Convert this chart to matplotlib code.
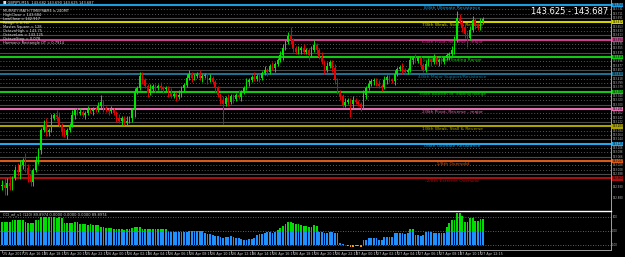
import matplotlib
matplotlib.use("Agg")
import matplotlib.pyplot as plt
import matplotlib.transforms as mtransforms
import numpy as np

# GBPJPY M15 candles (open of each bar = previous close)
first_open = 142.935
close = [142.940, 142.926, 142.949, 142.935, 142.971, 143.007, 142.998, 143.030, 143.052, 143.016,
         142.985, 142.953, 143.007, 143.052, 143.097, 143.187, 143.210, 143.178, 143.187, 143.241,
         143.255, 143.246, 143.210, 143.178, 143.165, 143.187, 143.210, 143.255, 143.277, 143.264,
         143.268, 143.255, 143.264, 143.277, 143.273, 143.282, 143.277, 143.295, 143.313, 143.286,
         143.277, 143.273, 143.277, 143.264, 143.241, 143.228, 143.241, 143.219, 143.228, 143.241,
         143.277, 143.358, 143.376, 143.430, 143.412, 143.385, 143.354, 143.372, 143.385, 143.376,
         143.385, 143.376, 143.372, 143.376, 143.354, 143.340, 143.349, 143.336, 143.345, 143.376,
         143.390, 143.421, 143.439, 143.421, 143.430, 143.439, 143.421, 143.430, 143.435, 143.412,
         143.421, 143.403, 143.376, 143.345, 143.322, 143.304, 143.331, 143.313, 143.340, 143.327,
         143.345, 143.336, 143.358, 143.376, 143.403, 143.412, 143.426, 143.417, 143.430, 143.421,
         143.444, 143.457, 143.448, 143.475, 143.466, 143.484, 143.502, 143.524, 143.556, 143.583,
         143.610, 143.592, 143.556, 143.538, 143.547, 143.556, 143.538, 143.547, 143.524, 143.547,
         143.570, 143.547, 143.516, 143.493, 143.457, 143.475, 143.493, 143.466, 143.412, 143.358,
         143.340, 143.300, 143.313, 143.322, 143.304, 143.322, 143.313, 143.304, 143.291, 143.345,
         143.376, 143.394, 143.408, 143.412, 143.394, 143.385, 143.381, 143.412, 143.426, 143.412,
         143.408, 143.439, 143.462, 143.470, 143.457, 143.448, 143.457, 143.502, 143.511, 143.497,
         143.511, 143.480, 143.457, 143.484, 143.502, 143.493, 143.511, 143.493, 143.502, 143.493,
         143.511, 143.524, 143.529, 143.547, 143.592, 143.691, 143.673, 143.646, 143.619, 143.601,
         143.637, 143.682, 143.660, 143.646, 143.673, 143.687]
# wick lengths in pips above max(open, close) / below min(open, close)
hi_wick = [2, 3, 2, 3, 1, 2, 3, 2, 1, 3, 2, 2, 1, 2, 1, 1, 2, 3, 1, 2,
           1, 2, 2, 1, 2, 1, 1, 2, 1, 1, 2, 1, 1, 2, 1, 1, 1, 2, 3, 1,
           1, 1, 2, 1, 1, 2, 1, 1, 2, 1, 1, 2, 1, 2, 2, 1, 1, 2, 1, 1,
           1, 2, 1, 1, 1, 2, 1, 1, 2, 1, 1, 2, 2, 1, 1, 1, 2, 1, 1, 1,
           2, 1, 1, 1, 1, 2, 1, 2, 1, 1, 1, 2, 1, 1, 2, 1, 1, 2, 1, 1,
           1, 2, 1, 1, 2, 1, 1, 2, 2, 1, 2, 4, 1, 1, 2, 1, 2, 1, 1, 2,
           2, 1, 1, 2, 1, 2, 1, 1, 2, 1, 1, 1, 2, 1, 1, 2, 1, 1, 1, 2,
           1, 2, 1, 1, 1, 2, 1, 2, 1, 1, 1, 2, 1, 1, 2, 1, 1, 2, 1, 2,
           1, 1, 1, 2, 1, 1, 2, 1, 1, 2, 1, 1, 1, 2, 2, 3, 2, 1, 2, 1,
           2, 2, 1, 1, 2, 1]
lo_wick = [2, 3, 3, 2, 2, 1, 2, 3, 2, 2, 3, 2, 2, 1, 2, 2, 1, 2, 2, 1,
           1, 2, 1, 2, 1, 2, 1, 1, 2, 1, 1, 1, 2, 1, 1, 2, 1, 1, 1, 2,
           1, 2, 1, 1, 2, 1, 2, 1, 1, 1, 2, 3, 1, 1, 2, 1, 2, 1, 1, 2,
           1, 1, 2, 1, 2, 1, 1, 2, 1, 1, 2, 1, 1, 2, 1, 1, 1, 2, 1, 2,
           1, 1, 2, 1, 2, 9, 1, 2, 1, 2, 1, 1, 2, 1, 1, 2, 1, 1, 1, 2,
           1, 1, 2, 1, 1, 2, 1, 1, 2, 1, 1, 2, 2, 1, 1, 2, 1, 1, 2, 1,
           1, 2, 1, 1, 2, 1, 1, 2, 2, 1, 2, 1, 1, 1, 6, 2, 1, 1, 2, 1,
           2, 1, 1, 2, 1, 1, 2, 1, 2, 1, 1, 2, 1, 1, 2, 1, 1, 1, 2, 1,
           1, 2, 1, 1, 1, 2, 1, 1, 2, 1, 1, 1, 2, 1, 2, 1, 1, 2, 2, 4,
           1, 1, 2, 1, 1, 1]

# indicator histogram values
cci = [67, 65, 68, 66, 80, 82, 78, 83, 80, 70,
       60, 58, 62, 78, 82, 100, 104, 103, 105, 104,
       100, 98, 100, 95, 62, 58, 60, 57, 67, 65,
       55, 52, 50, 48, 52, 47, 45, 44, 32, 28,
       25, 22, 20, 18, 15, 14, 12, 10, 12, 14,
       20, 30, 32, 28, 15, 14, 16, 15, 13, 16,
       15, 14, 16, 12, -5, -7, -8, -6, -7, -8,
       -6, -4, 0, 2, 1, -1, 0, 2, -15, -20,
       -25, -30, -35, -40, -45, -50, -48, -42, -38, -45,
       -50, -55, -60, -65, -67, -62, -58, -50, -30, -25,
       -20, -15, -10, -8, -12, -7, 7, 25, 40, 55,
       67, 65, 60, 55, 50, 45, 40, 35, 30, 32,
       45, 35, -7, -10, -12, -15, -10, -8, -12, -15,
       -89, -95, -100, -110, -118, -120, -112, -108, -115, -67,
       -70, -52, -50, -55, -52, -67, -65, -45, -42, -48,
       -45, -15, -18, -12, -15, -20, -14, 15, 18, -30,
       -28, -35, -30, -7, -5, -8, -15, -12, -18, -15,
       -13, 30, 60, 81, 85, 133, 130, 111, 67, 65,
       96, 95, 74, 72, 89, 90]

# Murrey Math levels
mm_prices = [143.750, 143.672, 143.594, 143.516, 143.438, 143.359,
             143.281, 143.203, 143.125, 143.047, 142.969]
mm_names = ["8/8th Ultimate Resistance", "7/8th Weak, Stall & Reverse",
            "6/8th Pivot, Reverse - major", "5/8th Top of Trading Range",
            "4/8th Major Support/Resistance", "3/8th Bottom of Trading Range",
            "2/8th Pivot, Reverse - major", "1/8th Weak, Stall & Reverse",
            "0/8th Ultimate Resistance", "-1/8th Oversold", "-2/8th Extreme Oversold"]
mm_colors = ["#1e9ce0", "#d2d200", "#c8408c", "#12c812", "#1f6f8f", "#12c812",
             "#e070b0", "#aaa200", "#22a8ec", "#d85a18", "#a81010"]
extra_ticks = [142.930, 142.880]

time_labels = ["25 Apr 2017", "25 Apr 16:15", "25 Apr 18:15", "25 Apr 20:15", "25 Apr 22:15",
               "26 Apr 00:15", "26 Apr 02:15", "26 Apr 04:15", "26 Apr 06:15", "26 Apr 08:15",
               "26 Apr 10:15", "26 Apr 12:15", "26 Apr 14:15", "26 Apr 16:15", "26 Apr 18:15",
               "26 Apr 20:15", "26 Apr 22:15", "27 Apr 00:15", "27 Apr 02:15", "27 Apr 04:15",
               "27 Apr 06:15", "27 Apr 08:15", "27 Apr 10:15", "27 Apr 12:15"]
bars_per_label = 8

info_lines = ["\u25a0 GBPJPY,M15  143.682 143.690 143.625 143.687",
              "MURREY MATH TIMEFRAME is 240MT",
              "HighClose = 143.684",
              "LowClose = 142.917",
              "Range = 0.767",
              "Master Square = 128",
              "OctaveHigh = 143.75",
              "OctaveLow = 143.125",
              "OctaveStep = 0.078",
              "Harmonic Rectangle OT = 0.7914"]

W, H = 625, 257
fig = plt.figure(figsize=(W / 100, H / 100), dpi=100, facecolor="black")

# ---- main price panel ----
ax = fig.add_axes([0, (H - 210) / H, 611 / W, 210 / H], facecolor="black")
ax.set_xlim(-0.8, 234.2)
ax.set_ylim(142.827, 143.772)

# quarter lines between the murrey levels
step = mm_prices[0] - mm_prices[1]
for p in mm_prices[:-1]:
    ax.axhline(p - step * 0.25, color="#5a5a5a", lw=0.7, ls=(0, (1, 2)), zorder=1)
    ax.axhline(p - step * 0.50, color="#5a5a5a", lw=0.7, ls=(0, (1, 2)), zorder=1)
    ax.axhline(p - step * 0.75, color="#4a4a4a", lw=0.8, zorder=1)

for p, name, col in zip(mm_prices, mm_names, mm_colors):
    ax.axhline(p, color=col, lw=1.5, zorder=2)
    tr = mtransforms.blended_transform_factory(ax.transAxes, ax.transData)
    ax.text(0.74, p - 0.003, name, transform=tr, ha="center", va="top",
            fontsize=3.2, color=col, zorder=3)

n = len(close)
idx = np.arange(n)
c = np.array(close)
o = np.r_[first_open, c[:-1]]
hi = np.maximum(o, c) + np.array(hi_wick) * 0.01
lo = np.minimum(o, c) - np.array(lo_wick) * 0.01
cols = np.where(c >= o, "#00e600", "#e60000")
ax.vlines(idx, lo, hi, colors=cols, lw=0.7, zorder=4)
ax.bar(idx, np.maximum(np.abs(c - o), 0.002), bottom=np.minimum(o, c), width=0.7,
       color=cols, linewidth=0, zorder=5)

# right price scale
for s in ["top", "left", "bottom"]:
    ax.spines[s].set_visible(False)
ax.spines["right"].set_color("#a0a0a0")
ax.spines["right"].set_linewidth(0.7)
ax.set_xticks([])
ax.set_yticks([])
tr_r = mtransforms.blended_transform_factory(ax.transAxes, ax.transData)
lab_fs = 1.9
for p in mm_prices[:-1]:
    for k in (0.25, 0.5, 0.75):
        ax.text(1.002, p - step * k, "%.3f" % (p - step * k), transform=tr_r, ha="left",
                va="center", fontsize=lab_fs, color="#b8b8b8", clip_on=False)
for p in extra_ticks:
    ax.text(1.002, p, "%.3f" % p, transform=tr_r, ha="left", va="center",
            fontsize=lab_fs, color="#b8b8b8", clip_on=False)
for p, col in zip(mm_prices, mm_colors):
    ax.text(1.002, p, "%.3f" % p, transform=tr_r, ha="left", va="center", fontsize=lab_fs,
            color="black", clip_on=False,
            bbox=dict(boxstyle="square,pad=0.1", fc=col, ec="none"))

# info text and current range
for i, line in enumerate(info_lines):
    y = 3 if i == 0 else 7 + 4 * i
    fig.text(3 / W, 1 - y / H, line, fontsize=2.6, color="#e0e0e0", va="center", ha="left")
fig.text(608 / W, 1 - 11 / H, "143.625 - 143.687", fontsize=6, color="white",
         va="center", ha="right")

# ---- indicator panel ----
ax2 = fig.add_axes([0, 7 / H, 611 / W, 39 / H], facecolor="black")
ax2.set_xlim(-0.8, 234.2)
ax2.set_ylim(-140.7, 148)
v = np.array(cci, dtype=float)
ax2.bar(idx, np.clip(np.minimum(v, 0) + 100, 0, None), bottom=-100, width=0.7,
        color="#1e90ff", linewidth=0)
ax2.bar(idx, np.clip(v, 0, None), bottom=0, width=0.7, color="#00dd00", linewidth=0)
ax2.bar(idx, np.clip(v + 100, None, 0), bottom=-100, width=0.7, color="#ffa500", linewidth=0)
for lev in (100, 0, -100):
    ax2.axhline(lev, color="#808080", lw=0.6, ls=(0, (1, 2)))
ax2.spines["left"].set_visible(False)
ax2.spines["top"].set_color("white")
ax2.spines["top"].set_linewidth(1.0)
ax2.spines["right"].set_color("#a0a0a0")
ax2.spines["right"].set_linewidth(0.7)
ax2.spines["bottom"].set_color("#a0a0a0")
ax2.spines["bottom"].set_linewidth(0.7)
ax2.set_yticks([])
tick_pos = [i * bars_per_label for i in range(len(time_labels))]
ax2.set_xticks(tick_pos)
ax2.set_xticklabels([])
ax2.tick_params(axis="x", length=2, width=0.5, color="#a0a0a0", direction="out")
tr_t = mtransforms.blended_transform_factory(ax2.transData, ax2.transAxes)
for pos, lab in zip(tick_pos, time_labels):
    ax2.text(pos + 0.3, -0.05, lab, transform=tr_t, ha="left", va="top",
             fontsize=2.4, color="#c8c8c8", clip_on=False)
tr2 = mtransforms.blended_transform_factory(ax2.transAxes, ax2.transData)
for lev, txt in [(100, "100"), (0, "0.00"), (-100, "-100")]:
    ax2.text(1.002, lev, txt, transform=tr2, ha="left", va="center", fontsize=lab_fs,
             color="#b8b8b8", clip_on=False)
ax2.text(0.005, 0.97, "CCI_wf_v1 (120) 89.8974 0.0000 0.0000 0.0000 89.8974",
         transform=ax2.transAxes, ha="left", va="top", fontsize=2.6, color="#d0d0d0")

fig.savefig("out.png", dpi=100, facecolor="black")
